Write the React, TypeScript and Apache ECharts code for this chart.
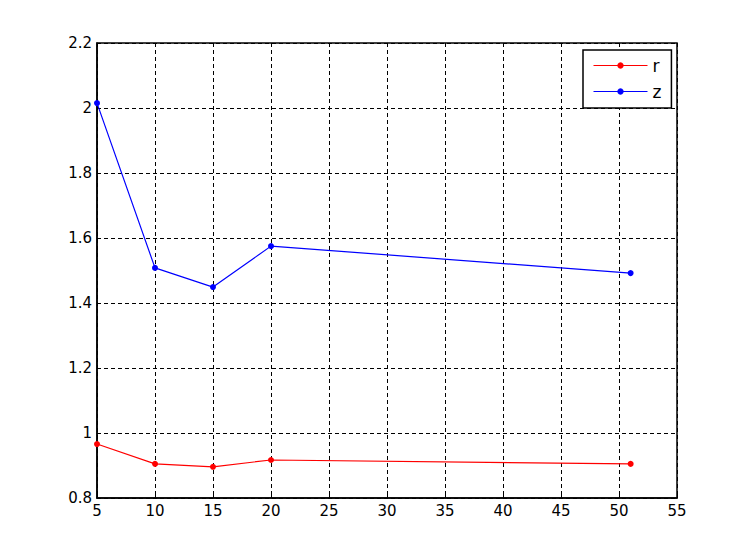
import React, { useEffect, useRef } from "react";
import * as echarts from "echarts";

const xValues = [5, 10, 15, 20, 51];
const rValues = [0.966, 0.905, 0.896, 0.917, 0.905];
const zValues = [2.015, 1.508, 1.449, 1.575, 1.492];

export default function App() {
  const ref = useRef<HTMLDivElement>(null);
  useEffect(() => {
    const chart = echarts.init(ref.current!, null, { renderer: "svg" });
    const font = "DejaVu Sans, sans-serif";
    chart.setOption({
      animation: false,
      backgroundColor: "#fff",
      grid: {
        left: 97,
        right: 70,
        top: 43,
        bottom: 62,
        show: true,
        borderColor: "#000",
        borderWidth: 1.5,
        backgroundColor: "transparent",
      },
      legend: {
        left: 583,
        top: 50,
        orient: "vertical",
        padding: [7, 10, 8, 10],
        itemGap: 9,
        itemWidth: 54,
        itemHeight: 8,
        borderColor: "#000",
        borderWidth: 1.5,
        backgroundColor: "#fff",
        lineStyle: { width: 1 },
        textStyle: { fontSize: 17, fontFamily: font, color: "#000" },
        data: ["r", "z"],
      },
      xAxis: {
        type: "value",
        min: 5,
        max: 55,
        interval: 5,
        axisLine: { lineStyle: { color: "#000", width: 1.5 } },
        axisTick: { show: true, inside: true, length: 4, lineStyle: { color: "#000" } },
        axisLabel: { color: "#000", fontSize: 15, fontFamily: font, margin: 5 },
        splitLine: { show: true, lineStyle: { color: "#000", type: [4, 3], width: 1 } },
      },
      yAxis: {
        type: "value",
        min: 0.8,
        max: 2.2,
        interval: 0.2,
        axisLine: { lineStyle: { color: "#000", width: 1.5 } },
        axisTick: { show: true, inside: true, length: 4, lineStyle: { color: "#000" } },
        axisLabel: {
          color: "#000",
          fontSize: 15,
          fontFamily: font,
          margin: 5,
          formatter: (v: number) => String(Math.round(v * 10) / 10),
        },
        splitLine: { show: true, lineStyle: { color: "#000", type: [4, 3], width: 1 } },
      },
      series: [
        {
          name: "r",
          type: "line",
          data: xValues.map((x, i) => [x, rValues[i]]),
          color: "#ff0000",
          lineStyle: { width: 1.2, color: "#ff0000" },
          symbol: "circle",
          symbolSize: 6,
          itemStyle: { color: "#ff0000" },
        },
        {
          name: "z",
          type: "line",
          data: xValues.map((x, i) => [x, zValues[i]]),
          color: "#0000ff",
          lineStyle: { width: 1.2, color: "#0000ff" },
          symbol: "circle",
          symbolSize: 6,
          itemStyle: { color: "#0000ff" },
        },
      ],
    });
    return () => chart.dispose();
  }, []);
  return <div ref={ref} style={{ width: 747, height: 560, position: "absolute", left: 0, top: 0 }} />;
}
